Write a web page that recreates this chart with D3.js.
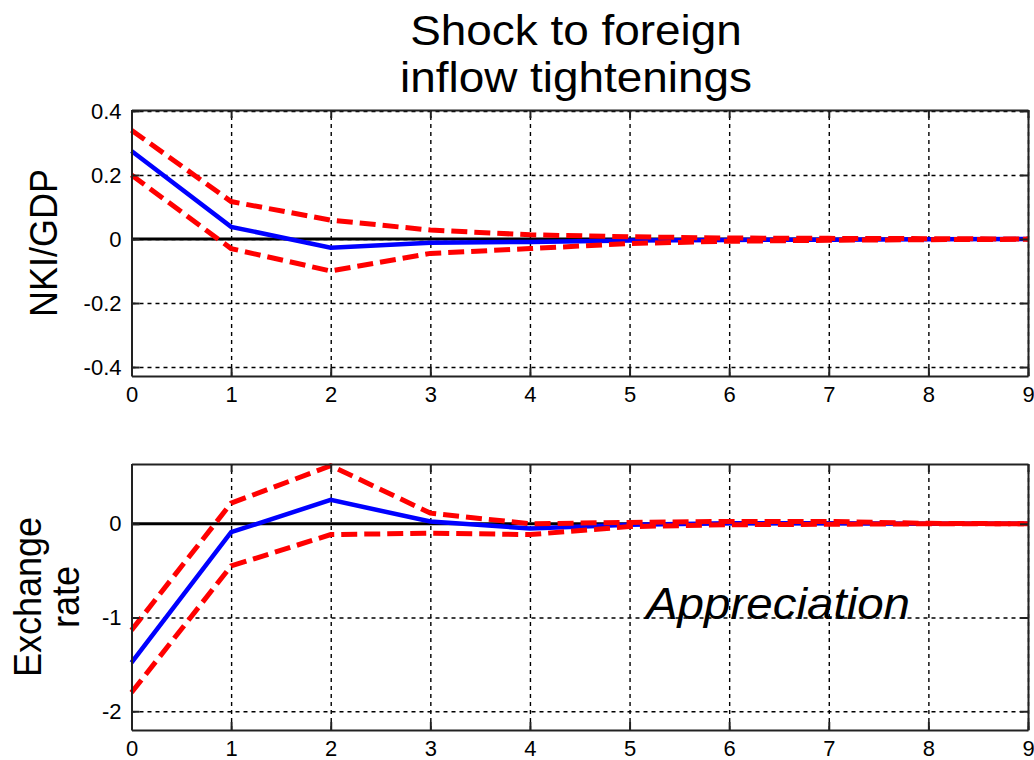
<!DOCTYPE html>
<html>
<head>
<meta charset="utf-8">
<script src="https://cdn.jsdelivr.net/npm/d3@7/dist/d3.min.js"></script>
<style>
  body { margin: 0; background: #fff; }
  text { font-family: "Liberation Sans", Arial, sans-serif; fill: #000; }
</style>
</head>
<body>
<svg id="chart"></svg>
<script>
// Horizons (periods after the shock)
const horizons = [0, 1, 2, 3, 4, 5, 6, 7, 8, 9];

// NKI/GDP response: median and confidence bands
const nkiMedian = [0.275, 0.038, -0.027, -0.012, -0.009, -0.005, -0.003, -0.002, -0.001, 0];
const nkiUpper  = [0.34, 0.117, 0.059, 0.028, 0.013, 0.007, 0.003, 0.002, 0.001, 0];
const nkiLower  = [0.2, -0.03, -0.10, -0.045, -0.03, -0.014, -0.007, -0.004, -0.002, -0.001];

// Exchange rate response: median and confidence bands
const fxMedian = [-1.48, -0.09, 0.255, 0.025, -0.05, -0.01, 0.005, 0.005, 0, 0];
const fxUpper  = [-1.135, 0.22, 0.62, 0.114, 0.0, 0.015, 0.025, 0.025, 0.005, 0];
const fxLower  = [-1.80, -0.45, -0.115, -0.10, -0.115, -0.03, -0.01, -0.005, 0, 0];

// Tick values and labels
const nkiTicks = [-0.4, -0.2, 0, 0.2, 0.4];
const nkiTickLabels = ["-0.4", "-0.2", "0", "0.2", "0.4"];
const fxTicks = [-2, -1, 0];
const fxTickLabels = ["-2", "-1", "0"];

// Text
const titleLines = ["Shock to foreign", "inflow tightenings"];
const nkiLabel = ["NKI/GDP"];
const fxLabel = ["Exchange", "rate"];
const noteText = "Appreciation";

const W = 1034, H = 760;
const stretch = 1.08; // the picture is slightly wider than tall

const svg = d3.select("#chart").attr("width", W).attr("height", H);

const x = d3.scaleLinear().domain([0, 9]).range([131.5, 1028]);

// Title
titleLines.forEach((t, i) => {
    svg.append("text")
        .attr("transform", `translate(576, ${45 + i * 47}) scale(${stretch},1)`)
        .attr("text-anchor", "middle")
        .style("font-size", "42.5px")
        .text(t);
});

function drawPanel(cfg) {
    const y = d3.scaleLinear().domain(cfg.domain).range([cfg.bottom, cfg.top]);
    const g = svg.append("g");
    const h = cfg.bottom - cfg.top;
    const w = x.range()[1] - x.range()[0];

    // Dashed grid
    g.append("g")
        .attr("transform", `translate(0,${cfg.bottom})`)
        .call(d3.axisBottom(x).tickValues(horizons).tickSize(-h).tickFormat(""))
        .call(s => s.select(".domain").remove())
        .selectAll("line")
        .attr("stroke", "#000").attr("stroke-width", 1.4).attr("stroke-dasharray", "4,4");
    g.append("g")
        .attr("transform", `translate(${x(0)},0)`)
        .call(d3.axisLeft(y).tickValues(cfg.ticks).tickSize(-w).tickFormat(""))
        .call(s => s.select(".domain").remove())
        .selectAll("line")
        .attr("stroke", "#000").attr("stroke-width", 1.4).attr("stroke-dasharray", "4,4");

    // Zero line
    g.append("line")
        .attr("x1", x(0)).attr("x2", x(9))
        .attr("y1", y(0)).attr("y2", y(0))
        .attr("stroke", "#000").attr("stroke-width", 3);

    const line = d3.line().x((d, i) => x(horizons[i])).y(d => y(d));

    g.append("path").datum(cfg.median)
        .attr("d", line).attr("fill", "none")
        .attr("stroke", "#0000ff").attr("stroke-width", 4.5);

    [cfg.upper, cfg.lower].forEach(band => {
        g.append("path").datum(band)
            .attr("d", line).attr("fill", "none")
            .attr("stroke", "#ff0000").attr("stroke-width", 5)
            .attr("stroke-dasharray", "16,7");
    });

    // Frame with inward ticks
    const axB = g.append("g").attr("transform", `translate(0,${cfg.bottom})`)
        .call(d3.axisBottom(x).tickValues(horizons).tickSizeInner(-8).tickSizeOuter(0)
            .tickPadding(10).tickFormat(d3.format("d")));
    const axT = g.append("g").attr("transform", `translate(0,${cfg.top})`)
        .call(d3.axisTop(x).tickValues(horizons).tickSizeInner(-8).tickSizeOuter(0).tickFormat(""));
    const axL = g.append("g").attr("transform", `translate(${x(0)},0)`)
        .call(d3.axisLeft(y).tickValues(cfg.ticks).tickSizeInner(-8).tickSizeOuter(0)
            .tickPadding(10).tickFormat((d, i) => cfg.tickLabels[i]));
    const axR = g.append("g").attr("transform", `translate(${x(9)},0)`)
        .call(d3.axisRight(y).tickValues(cfg.ticks).tickSizeInner(-8).tickSizeOuter(0).tickFormat(""));
    [axB, axT, axL, axR].forEach(a => {
        a.select(".domain").attr("stroke", "#222").attr("stroke-width", 2);
        a.selectAll(".tick line").attr("stroke", "#222").attr("stroke-width", 2);
        a.selectAll("text").style("font-size", "22px")
            .style("font-family", "\"Liberation Sans\", Arial, sans-serif").attr("fill", "#111");
    });

    // Y-axis label (rotated)
    cfg.label.forEach((t, i) => {
        svg.append("text")
            .attr("transform", `translate(${cfg.labelX + i * 38}, ${(cfg.top + cfg.bottom) / 2}) scale(${stretch},1) rotate(-90)`)
            .attr("text-anchor", "middle")
            .style("font-size", "36px")
            .text(t);
    });
    return y;
}

drawPanel({
    top: 110, bottom: 376, domain: [-0.428, 0.403],
    ticks: nkiTicks, tickLabels: nkiTickLabels,
    median: nkiMedian, upper: nkiUpper, lower: nkiLower,
    label: nkiLabel, labelX: 57
});

const yFx = drawPanel({
    top: 464, bottom: 730, domain: [-2.2, 0.638],
    ticks: fxTicks, tickLabels: fxTickLabels,
    median: fxMedian, upper: fxUpper, lower: fxLower,
    label: fxLabel, labelX: 41
});

// Annotation inside the exchange-rate panel
svg.append("text")
    .attr("transform", `translate(${x(6.49)}, ${yFx(-1) + 1}) scale(${stretch},1)`)
    .attr("text-anchor", "middle")
    .style("font-size", "44px")
    .style("font-style", "italic")
    .text(noteText);
</script>
</body>
</html>
